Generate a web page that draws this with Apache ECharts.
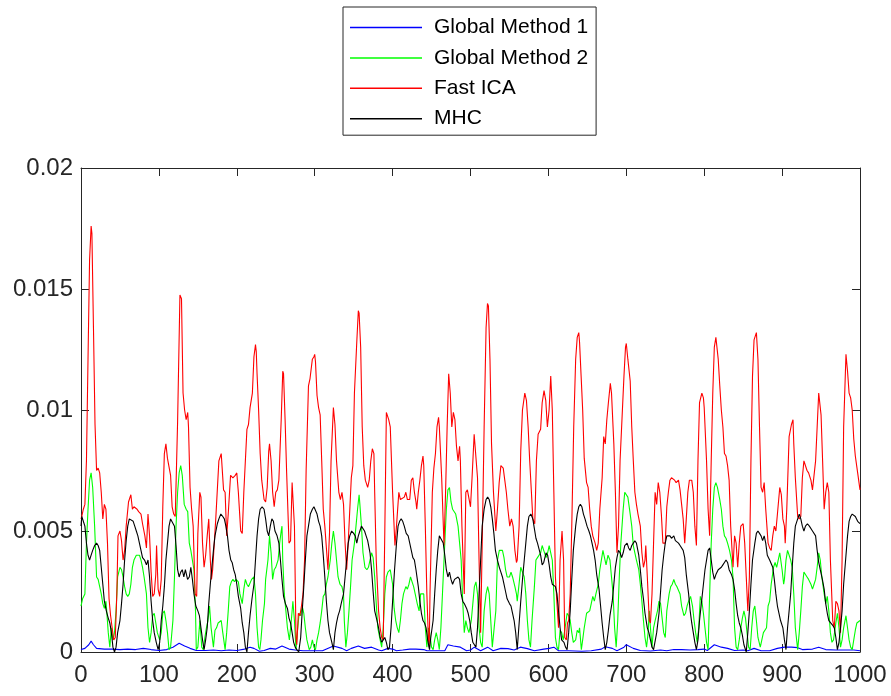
<!DOCTYPE html>
<html>
<head>
<meta charset="utf-8">
<script src="https://cdn.jsdelivr.net/npm/echarts@6/dist/echarts.min.js"></script>
<style>
html,body{margin:0;padding:0;background:#fff;}
#chart{width:891px;height:696px;}
</style>
</head>
<body>
<div id="chart"></div>
<script>
// Values are stored in units of 1e-3 (milli); pairs are [sample index, value]
const seriesNames = ['Global Method 1', 'Global Method 2', 'Fast ICA', 'MHC'];
const xTicks = [0, 100, 200, 300, 400, 500, 600, 700, 800, 900, 1000];
const xTickLabels = ['0', '100', '200', '300', '400', '500', '600', '700', '800', '900', '1000'];
const yTicks = [0, 0.005, 0.01, 0.015, 0.02];
const yTickLabels = ['0', '0.005', '0.01', '0.015', '0.02'];
const valueUnit = 1e-3;

const globalMethod1 = [[0,0.1],[5,0.15],[10,0.3],[13,0.45],[16,0.3],[20,0.15],[30,0.12],[40,0.12],[50,0.1],[60,0.12],[70,0.1],[80,0.15],[90,0.1],[100,0.06],[110,0.1],[118,0.2],[126,0.36],[133,0.25],[140,0.15],[148,0.06],[160,0.06],[170,0.08],[180,0.05],[190,0.08],[200,0.06],[210,0.12],[217,0.2],[222,0.15],[229,0.03],[235,0.06],[243,0.15],[250,0.12],[258,0.25],[267,0.12],[275,0.08],[285,0.05],[298,0.05],[310,0.05],[324,0.25],[335,0.15],[341,0.05],[347,0.15],[356,0.25],[364,0.15],[373,0.2],[382,0.08],[386,0.05],[394,0.15],[400,0.12],[405,0.05],[413,0.08],[422,0.12],[430,0.12],[440,0.1],[444,0.05],[455,0.05],[467,0.05],[471,0.3],[478,0.25],[487,0.2],[495,0.05],[500,0.08],[505,0.2],[513,0.05],[522,0.2],[529,0.05],[539,0.15],[548,0.14],[556,0.08],[564,0.2],[573,0.14],[582,0.05],[594,0.12],[601,0.15],[607,0.2],[613,0.05],[626,0.05],[643,0.03],[655,0.05],[668,0.12],[673,0.22],[682,0.15],[688,0.05],[697,0.2],[700,0.3],[709,0.15],[718,0.06],[731,0.04],[744,0.08],[752,0.05],[761,0.1],[771,0.1],[782,0.08],[792,0.1],[800,0.12],[804,0.06],[813,0.3],[822,0.2],[830,0.15],[839,0.06],[850,0.08],[856,0.05],[864,0.15],[873,0.05],[884,0.05],[894,0.15],[903,0.2],[912,0.2],[920,0.18],[926,0.1],[939,0.12],[947,0.2],[956,0.1],[969,0.08],[983,0.08],[992,0.08],[1000,0.05]];

const globalMethod2 = [[0,1.9],[2,2.2],[5,2.4],[7,4.5],[9,5.9],[11,7.1],[13,7.4],[15,6.8],[17.5,5.2],[20,3.1],[22,3.0],[24,2.7],[26,2.4],[28,2.0],[30,1.8],[32,2.1],[33,1.7],[35,0.8],[37,0.2],[39,1.0],[41,0.5],[43,0.8],[45,1.7],[47,3.1],[50,3.5],[52,3.4],[54,3.1],[56,2.7],[58,2.4],[60,2.3],[62,2.4],[64,2.8],[66,3.5],[68,3.8],[71,4.0],[73,4.0],[75,4.0],[77,3.8],[79,3.5],[81,3.1],[84,2.4],[86,1.0],[88,0.4],[90,0.8],[92,1.5],[94,1.6],[96,1.2],[98,0.8],[101,0.5],[103,0.8],[105,1.6],[107,1.7],[109,1.3],[111,0.8],[113,0.1],[115,0.2],[118,1.3],[120,3.1],[122,5.2],[124,6.6],[126,7.4],[128,7.7],[130,7.3],[132.5,6.1],[135,5.9],[137,5.8],[139,4.5],[141,4.2],[143,3.8],[145,3.4],[147,1.7],[148,0.1],[150,0.2],[152.6,1.3],[155,0.2],[157,0.1],[159,0.6],[161,1.0],[163,1.3],[165,1.9],[167,1.0],[170,0.2],[172,0.9],[174,1.0],[176,1.2],[178,1.2],[180,1.3],[182,0.8],[185,0.1],[187,0.8],[189,1.7],[191,2.7],[193,2.9],[195,3.0],[197,2.9],[199,3.0],[202,2.9],[204,2.4],[207,2.0],[209,2.6],[211,3.0],[213,2.8],[215,2.7],[217,2.7],[219,3.0],[222,3.1],[224,2.4],[226,1.0],[228,0.2],[229.5,0.1],[231,0.5],[233,1.3],[235.5,2.0],[237,3.0],[240,3.8],[242,4.8],[244,4.1],[246,3.0],[248,3.4],[250,3.5],[253,3.8],[255,4.5],[257,5.0],[258,5.2],[259,3.8],[261,2.4],[263,1.7],[265,1.0],[267.5,0.5],[270,1.3],[272,2.1],[274,1.3],[276,0.1],[278,0.9],[280,1.6],[282,1.5],[284,1.9],[286,1.6],[288,1.0],[290,0.5],[293,0.1],[295,0.2],[297,0.5],[299,0.2],[301,0.1],[303,0.5],[305,0.8],[307,1.2],[309,1.7],[311,2.3],[313,2.4],[315,2.8],[317,3.1],[320,3.8],[322,4.5],[324,5.0],[326,4.5],[328,3.8],[330,3.1],[332.5,2.8],[335,2.7],[337,2.4],[338,1.3],[340,0.2],[342,0.8],[344,1.7],[346,2.7],[348,3.8],[351,4.5],[353,5.2],[355,5.9],[357,6.5],[358,6.1],[360,5.2],[362,4.1],[364.5,3.5],[367,3.4],[369,3.5],[371,3.8],[373,4.1],[375,3.9],[377,3.1],[379,2.0],[381,1.0],[384,0.5],[386,0.2],[388,1.0],[390,2.4],[392,3.1],[394,3.3],[397,3.4],[400,2.8],[402,1.8],[404,1.3],[406,1.0],[408,0.8],[410,1.3],[412,2.0],[414,2.4],[417,2.7],[419,2.6],[421,2.8],[423,3.1],[425,3.1],[427,2.7],[429,2.4],[431.6,2.0],[434,1.7],[436,2.4],[438,2.4],[440,2.4],[442,1.0],[444,0.2],[446,1.0],[447.5,0.8],[450,0.2],[452,0.1],[454,0.5],[456,0.8],[458,0.5],[460,0.1],[462,1.0],[464,2.4],[467,4.5],[469,5.9],[471,6.7],[473,6.8],[475,6.2],[477,5.9],[479,5.9],[481,5.7],[484,5.2],[486,5.2],[488,3.8],[490,2.1],[492,0.8],[494,1.3],[496,1.0],[498,0.8],[501,1.3],[503,2.0],[505,2.7],[507,2.9],[509,2.4],[511,1.0],[513,0.4],[515,0.2],[517.5,1.7],[520,2.4],[522,2.7],[524,2.4],[526,1.3],[528,0.2],[530,0.2],[532.5,1.7],[534.6,3.8],[537,4.2],[539,4.2],[541,4.2],[543,3.9],[545,3.4],[547,3.1],[550,3.1],[552,3.3],[554,3.1],[557,2.7],[559,2.4],[560,2.1],[562,2.7],[564.5,3.5],[567,3.5],[569,3.1],[571,2.4],[573,1.3],[575,0.5],[577,0.2],[579,1.3],[582,2.7],[584,3.8],[586,3.9],[588,3.9],[590,4.1],[592,4.4],[594,4.2],[597,3.9],[599,4.1],[601,4.4],[603,4.4],[605,3.8],[607,2.4],[609,0.6],[611,0.2],[613,0.1],[615,0.9],[617,0.8],[619,0.5],[621,0.9],[624,1.6],[626,1.5],[628,1.3],[630,0.8],[632,0.4],[635,0.5],[637,0.9],[639,0.8],[640,1.0],[642.3,0.1],[644,0.5],[646,1.0],[649,1.6],[651,1.6],[653,1.7],[655,2.0],[657,2.3],[659,2.1],[661,2.4],[664,2.8],[666,3.4],[668,3.8],[670,4.2],[672,3.9],[674,3.6],[676.5,4.0],[679,3.8],[681,3.1],[683,2.4],[685,1.0],[687,0.2],[689,1.3],[691,3.1],[693,4.5],[696,5.9],[698,6.6],[700,6.6],[702,6.4],[705,5.7],[707,5.2],[709,4.4],[711,4.1],[713,3.8],[716,3.4],[718,2.8],[720,2.1],[722,1.3],[724,0.6],[726,0.2],[728,0.8],[729.5,1.7],[731,1.0],[733,0.2],[735,1.0],[737,1.3],[740,1.7],[742,2.1],[744,2.0],[746,1.4],[748,0.8],[750,0.6],[752,1.7],[755,2.4],[757,2.7],[759,2.8],[761,3.0],[763,2.8],[765,2.7],[767,2.7],[769,2.4],[771,1.9],[774,1.5],[776,1.6],[778,1.9],[780,2.1],[782.5,2.3],[785,1.9],[787,1.3],[789,0.8],[791,0.4],[793,1.0],[795,2.3],[797,2.1],[799,1.6],[801,1.0],[803,0.4],[805,0.1],[807,2.4],[809,4.5],[811,5.9],[813,6.8],[815,7.0],[817,6.8],[820,6.3],[822,5.9],[824,5.2],[826,4.8],[828,4.7],[830,4.5],[832.5,4.2],[835,3.8],[837,3.1],[839,1.0],[841,0.2],[843,0.1],[845,0.5],[847,1.0],[849,1.4],[851,1.7],[853,1.4],[855,0.8],[857,0.2],[859,0.1],[861,1.0],[863,1.7],[865,1.9],[867,1.3],[869,0.6],[872,0.2],[874,0.5],[876,0.8],[878,0.8],[880,1.0],[882,1.9],[884,2.1],[886,2.8],[889,3.5],[891,3.7],[893,3.5],[895,3.8],[897,4.1],[900,3.4],[902,2.8],[903,3.0],[905,3.8],[907,4.2],[909,4.2],[911,3.8],[913,3.5],[915,2.4],[917,1.0],[920,0.1],[922,0.8],[924,1.7],[926,2.7],[928,3.3],[930,3.2],[932,3.1],[934,3.0],[937,2.8],[939,2.6],[941,2.8],[943,3.0],[945,3.5],[947,4.1],[949,3.8],[951,3.1],[954,2.4],[956,2.0],[958,2.3],[960,1.7],[962,0.8],[964,0.4],[966,0.5],[969,1.2],[971,1.6],[973,1.0],[975,0.2],[977,0.5],[979,1.0],[982,1.5],[984,1.0],[986,0.5],[988,0.2],[990,0.1],[992,0.5],[994,0.9],[996,1.2],[1000,1.3]];

const fastICA = [[0,5.5],[1,5.6],[3,5.9],[5,6.1],[7,7.9],[9,12.1],[11,16.2],[13,17.6],[14,17.3],[16,13.4],[18,9.4],[20,7.5],[22,7.6],[24,7.4],[26,6.6],[28,5.5],[30,6.1],[32,5.9],[34,4.5],[36,2.2],[38,1.5],[40,1.0],[42,0.5],[44,0.6],[46,2.4],[47.5,4.8],[50,5.0],[52,4.6],[54,3.8],[56,4.2],[58,5.2],[61,6.2],[64,6.5],[66,5.9],[68,6.0],[70,6.0],[72,5.9],[74,5.8],[77,5.7],[79,5.3],[82,4.8],[84,4.3],[86,5.7],[88,4.8],[90,3.3],[92,2.3],[94,2.4],[96,3.2],[97,4.4],[99,2.6],[101,2.3],[103,3.0],[105,6.0],[107,8.2],[109,8.6],[111,8.0],[113,8.0],[115,7.3],[117,6.0],[119,5.7],[121,5.6],[124,9.5],[127,14.75],[129,14.6],[131,10.7],[133,10.0],[135,9.6],[137,9.9],[138,9.3],[140,6.8],[142,5.9],[144,5.2],[146.5,2.4],[148.5,2.3],[150,4.9],[152.5,6.6],[154,6.4],[156,4.5],[158,3.5],[160,4.0],[162,4.8],[164,5.5],[166,3.8],[167.5,3.0],[169,3.4],[173,5.5],[177,7.9],[180,8.2],[183,6.7],[185,6.6],[187,4.8],[189,5.7],[192,7.3],[195,7.2],[198,7.3],[200,7.4],[202,6.6],[205,5.0],[207,4.9],[209,6.6],[211,7.9],[213,9.2],[215,9.4],[217,10.1],[220,10.7],[222,12.2],[224,12.7],[225,12.4],[226,11.5],[228,10.0],[230,8.2],[232,7.1],[235,6.3],[237,6.2],[239,6.8],[241,8.3],[242,8.6],[244,7.9],[246,6.6],[248,6.0],[250,6.6],[252,6.7],[254,7.1],[257,9.6],[259,11.6],[260,11.5],[262,9.6],[264,7.4],[267,4.5],[269,4.6],[271,7.0],[272,7.0],[274,5.2],[276,0.6],[277,0.3],[279,1.6],[281,1.5],[283,1.9],[285,2.4],[287,3.8],[289,7.5],[292,11.0],[294,11.3],[297,12.1],[299,12.2],[300,12.3],[301,12.0],[303,10.6],[305,10.1],[307,9.8],[309,7.9],[311,5.9],[313,5.2],[317,3.4],[319,4.9],[321,7.9],[324,10.1],[326,9.4],[328,7.9],[331,6.6],[333,6.3],[335,6.6],[337,6.1],[339,4.5],[341,3.4],[343,4.5],[347,7.2],[349,7.7],[351,10.7],[354,12.8],[356,14.1],[357,14.0],[359,12.6],[361,9.3],[363,7.7],[365,7.1],[368,6.8],[370,7.1],[372,7.9],[374,8.4],[376,8.2],[377,6.6],[379,3.8],[382,1.7],[384,1.0],[386,0.6],[388,0.5],[390,5.0],[392,9.9],[395,9.6],[397,9.3],[400,6.6],[403,4.4],[405,5.2],[408,6.6],[410,6.3],[412,6.3],[415,6.4],[417,6.6],[419,6.3],[422,6.3],[424,7.1],[426,7.2],[428,6.6],[430,6.2],[431,5.9],[433,6.6],[435,7.1],[437,7.7],[439,8.1],[440,7.7],[442,5.2],[444,2.4],[446,0.5],[447,0.2],[448,2.4],[451,6.6],[453,7.6],[455,8.2],[457,9.3],[459,9.7],[460,9.3],[463,7.2],[466,4.4],[468,6.6],[470,9.3],[472,11.5],[474,10.7],[476,9.3],[478,9.9],[480,9.6],[482,8.5],[484,7.9],[486,8.5],[487,7.9],[489,5.2],[492,2.4],[494,6.6],[496,6.7],[500,6.0],[502,7.2],[504.7,9.0],[507,9.0],[509,7.2],[511,3.8],[513,0.8],[515.4,5.2],[517.5,9.3],[520,13.4],[521.8,14.4],[523,14.3],[525,12.1],[527,8.6],[529.5,6.6],[532.5,5.0],[534.6,5.9],[536.8,7.0],[539,7.7],[542,7.6],[544,7.1],[546,6.6],[548,5.9],[550.4,5.2],[552.6,5.5],[554.7,5.2],[557,4.2],[559,3.7],[560,3.8],[562.4,5.2],[564.5,8.3],[566.7,10.0],[569.7,10.7],[571.8,10.4],[574,9.3],[576,7.9],[578.2,6.6],[580,5.5],[582.5,5.3],[584.6,7.9],[586.8,9.0],[590,9.2],[592,10.3],[594.4,10.8],[596.6,10.4],[598.7,9.3],[600.9,10.0],[603,11.4],[605,10.0],[607,6.6],[609,3.1],[611,2.0],[613,1.0],[615,3.8],[617.5,5.0],[619.5,3.8],[621,0.6],[623,0.5],[624.5,1.2],[626,1.3],[628,2.4],[630,5.2],[632.5,9.3],[635,12.1],[637,13.0],[639,13.2],[640,12.8],[642,11.4],[644,10.0],[646,8.0],[649,7.0],[651,6.8],[653,5.9],[655,5.2],[657,4.8],[660,4.5],[662,4.2],[664,4.5],[666,5.9],[669,7.2],[671,8.9],[673,8.6],[675,9.6],[677,10.3],[679.5,11.1],[681,10.7],[684,8.6],[686,6.6],[688,4.1],[690,5.2],[692,7.9],[695,10.0],[697,11.4],[699,12.6],[700,12.75],[702,12.1],[705,11.2],[707,9.3],[709,7.9],[711,6.6],[713,6.1],[715,5.7],[718,5.2],[720,4.1],[722,3.5],[724,3.8],[725,4.4],[727,3.1],[729.5,1.3],[731,1.2],[733,2.4],[735,4.5],[737,6.6],[739,6.1],[741,7.0],[743,6.6],[745,5.7],[747,4.5],[750,4.5],[752,6.0],[754,6.6],[756,7.1],[758,7.2],[760,7.2],[762,7.1],[764,7.0],[767,7.1],[769,6.7],[771,6.1],[773,5.5],[775,4.5],[777,5.5],[779,6.6],[781,7.1],[784,7.1],[786,6.6],[788,5.2],[790,4.4],[792,7.9],[794,10.3],[797,10.7],[799,10.5],[800,10.1],[803,7.9],[805,5.9],[807,4.8],[809,7.9],[811,10.7],[813,12.6],[815,13.0],[818,12.1],[820,11.0],[822,10.0],[824,9.3],[826,8.2],[828,8.1],[830,7.7],[832,7.1],[834,5.2],[837,3.5],[839,4.8],[841,4.5],[843,3.5],[845,4.5],[847,5.2],[850,5.3],[852,4.5],[854,3.1],[856,1.7],[858,3.1],[860,7.9],[862,11.4],[864,12.9],[867,13.2],[869,12.1],[871,9.3],[873,6.8],[875,6.6],[877,7.0],[879,5.9],[882,4.5],[884,4.3],[886,4.2],[888,4.8],[890,5.2],[892,5.0],[894,5.7],[897,6.8],[899,6.5],[901,5.5],[903,5.2],[904,4.5],[906,5.9],[908,7.9],[909,8.9],[911,8.9],[912,9.4],[914,9.6],[915,8.6],[917,7.2],[920,5.6],[922,5.5],[924,5.6],[926,7.2],[928,7.9],[930,7.9],[932,7.5],[934,7.4],[937,7.1],[939,6.7],[941,6.7],[943,7.9],[945,9.3],[947,10.7],[950,9.8],[952,7.9],[954,5.9],[956,6.6],[958,7.0],[960,6.6],[962,3.8],[965,1.3],[967,1.0],[969,2.1],[971,2.0],[973,1.7],[975,0.8],[977,3.8],[979,9.3],[982,12.3],[984,11.6],[986,10.7],[988,10.5],[990,10.0],[992,8.8],[994,8.1],[997,7.4],[1000,6.7]];

const mhc = [[0,5.2],[1,5.6],[3,5.6],[5,5.2],[7,4.5],[9,4.0],[11,3.8],[13,4.0],[15,4.2],[17.5,4.4],[20,4.5],[22,4.4],[24,4.2],[26,3.5],[28,2.8],[30,2.1],[32.5,1.7],[35,1.4],[37,1.2],[39,0.8],[41,0.2],[43,0.0],[45,0.2],[47,0.8],[50,1.3],[52,2.0],[54,2.8],[56,3.8],[58,4.6],[60,5.2],[62,5.5],[64.5,5.5],[67,5.4],[69,5.2],[71,5.0],[73,4.8],[75,4.5],[77,4.2],[79,3.9],[81.6,3.8],[84,3.6],[86,3.8],[88,3.1],[90,2.1],[92,1.3],[94,0.8],[96.6,0.4],[99,0.1],[101,0.4],[103,1.3],[105,1.9],[107,2.7],[109,3.8],[111,4.5],[113,5.2],[115,5.5],[117.5,5.5],[120,5.2],[122,4.4],[124,3.4],[126,3.1],[128,3.3],[130,3.4],[132,3.1],[134,3.4],[136.8,3.0],[139,3.1],[141,3.5],[143,3.0],[145,2.4],[147.4,1.9],[150,1.7],[152,1.5],[154,1.0],[156,0.5],[158,0.1],[160,0.5],[162,1.0],[164,2.0],[166,2.8],[168,3.5],[170,4.2],[172,4.8],[175,5.3],[177,5.5],[179.5,5.7],[182,5.6],[184,5.5],[186,5.2],[188,4.8],[190,4.2],[192.3,3.8],[194,3.7],[196,3.4],[198,3.2],[200,2.8],[202,2.3],[205,1.8],[207,1.2],[209,0.8],[211,0.2],[213,0.0],[215,0.8],[217,1.5],[219.5,2.2],[222,2.8],[224,3.8],[226,4.8],[228,5.5],[230,5.9],[232.5,6.0],[235,5.9],[237,5.5],[239,5.0],[241,4.8],[243,5.2],[245,5.5],[247,5.4],[249,5.0],[251.7,4.8],[254,4.5],[256,3.8],[258,3.0],[260,2.3],[262.4,2.0],[265,1.8],[267,1.4],[269,1.2],[271,0.8],[273,0.4],[275,0.2],[277,0.1],[279.5,0.0],[282,0.6],[284,1.7],[286,2.7],[288,3.8],[290,4.8],[292,5.2],[294.4,5.7],[297,5.9],[299,6.0],[300.4,6.0],[303,5.7],[305,5.4],[307,5.2],[309,4.8],[311,4.0],[313,3.1],[315,2.1],[317,1.3],[319,0.8],[322,0.4],[324,0.1],[326,0.8],[328,1.2],[330,1.5],[332,1.7],[334,2.0],[337,2.4],[339,3.1],[341,3.8],[343,4.5],[345,4.8],[347.4,5.0],[350,4.9],[352,4.8],[354,4.5],[356,4.8],[358,5.0],[360,5.2],[362,5.1],[364,5.0],[366,4.8],[368,4.6],[371,4.1],[373,3.4],[375,2.5],[377,1.7],[380,1.3],[382,1.0],[384,0.6],[386,0.4],[388,0.5],[390,0.6],[392,0.4],[394,0.1],[396,0.2],[398,1.0],[400,2.1],[402.5,3.4],[405,4.5],[407,5.2],[409,5.4],[411,5.5],[413,5.4],[415,5.2],[417.5,4.9],[420,4.8],[422,4.5],[424,4.2],[426,3.9],[428,3.8],[430,3.4],[433,2.7],[435,2.1],[437,1.6],[439,1.3],[441,1.2],[443,1.0],[445,0.5],[447.4,0.1],[449,0.6],[452,1.3],[454,2.4],[456,3.4],[458,4.2],[460,4.8],[462.4,4.8],[465,4.5],[467,4.0],[469,3.4],[471,3.1],[473,3.3],[475,3.0],[477,2.8],[479.5,3.0],[482,3.0],[484,3.1],[486,3.0],[488,2.4],[490,2.1],[492,2.0],[495,1.8],[497,1.6],[499,1.3],[501,0.8],[503,0.4],[505,0.3],[507,0.2],[509,1.0],[511,2.4],[513,3.8],[515,5.2],[517.5,5.9],[520,6.3],[522,6.4],[524,6.3],[526,6.0],[528,5.5],[530,4.9],[532,4.2],[534.6,3.8],[537,3.5],[539,3.3],[541,3.1],[543,2.8],[545,2.5],[547,2.2],[550,2.0],[552,1.9],[554,1.6],[556,1.3],[558,0.8],[560,0.1],[562,1.0],[564.5,2.1],[567,3.1],[569,3.8],[571,4.5],[573,5.2],[575,5.6],[577.5,5.7],[580,5.5],[582,5.1],[584,4.7],[586,4.5],[588,4.5],[590,4.0],[592,3.6],[594,3.7],[597,4.1],[599,4.0],[601,3.6],[603,3.1],[605,2.8],[607,2.8],[609,2.7],[611,2.4],[613,1.7],[615,1.0],[617,0.5],[620,0.4],[622,0.2],[624,0.1],[626,0.8],[628,1.7],[630,3.0],[632,4.2],[635,5.2],[637,5.7],[639,6.0],[641,6.1],[643,6.0],[645,5.7],[647,5.5],[649.6,5.2],[652,5.0],[654,4.8],[656,4.5],[658,4.2],[660,3.8],[662,3.2],[665,2.6],[667,1.9],[669,1.2],[671,0.6],[673,0.1],[675,0.4],[677,0.9],[679,1.5],[682,2.1],[684,2.8],[686,3.5],[688,3.9],[690,4.2],[692,4.1],[694,3.9],[696,4.1],[698,4.4],[701,4.5],[703,4.3],[705,4.2],[707,4.4],[709,4.5],[711,4.6],[713,4.5],[716,4.0],[718,3.4],[720,2.7],[722,2.2],[724,1.6],[727,1.0],[729,0.8],[731,0.5],[733,0.2],[735,0.1],[737,0.1],[739,0.8],[742,1.6],[744,2.5],[746,3.4],[748,4.0],[750,4.5],[752,4.8],[754,4.8],[756,4.8],[758,4.7],[761,4.8],[763,4.6],[765,4.6],[767,4.5],[769,4.4],[771,4.4],[773,4.2],[775,3.9],[777,3.2],[780,2.4],[782,1.7],[784,1.2],[786,0.8],[788,0.4],[790,0.1],[792,0.5],[794,1.3],[797,2.2],[799,2.8],[801,3.4],[803,3.8],[805,4.2],[807,4.3],[809,3.8],[811,3.3],[813,3.0],[815,3.2],[818,3.4],[820,3.4],[822,3.5],[824,3.6],[826,3.7],[828,3.8],[830,3.7],[832,3.4],[835,3.2],[837,3.0],[839,2.6],[841,2.0],[843,1.5],[845,1.2],[847,1.0],[849,0.7],[851,0.3],[854,0.0],[856,0.8],[858,1.7],[860,2.8],[862,3.8],[865,4.5],[867,4.9],[869,5.0],[871,4.9],[873,4.8],[875,4.6],[877,4.8],[879,4.5],[881,4.0],[884,3.8],[886,3.8],[888,3.5],[890,3.0],[892,2.4],[894,1.9],[896,1.6],[898,1.3],[901,1.0],[903,0.5],[905,0.1],[907,1.0],[909,1.7],[911,2.4],[913,3.5],[915,4.5],[917,5.2],[920,5.5],[922,5.7],[924,5.5],[926,5.2],[928,5.0],[930,5.2],[932.5,5.3],[935,5.2],[937,5.2],[939,5.0],[941,5.0],[943,4.8],[945,4.2],[947,3.7],[949,3.4],[951.7,3.0],[954,2.6],[956,2.0],[958,1.6],[960,1.3],[962.4,1.2],[965,1.1],[967,1.0],[969,0.6],[971,0.1],[973,0.4],[975,1.0],[977,1.7],[979,2.8],[982,4.0],[984,4.8],[986,5.4],[988,5.6],[990,5.7],[992,5.7],[994,5.6],[997,5.4],[1000,5.3]];

const seriesColors = ['#0000FF', '#00FF00', '#FF0000', '#000000'];
const seriesData = [globalMethod1, globalMethod2, fastICA, mhc];

const axisColor = '#262626';
const fontFamily = '"Liberation Sans", Arial, Helvetica, sans-serif';

const chart = echarts.init(document.getElementById('chart'), null, {renderer: 'canvas'});

function lookupLabel(ticks, labels) {
  return function (v) {
    for (let i = 0; i < ticks.length; i++) {
      if (Math.abs(v - ticks[i]) < 1e-9) return labels[i];
    }
    return '';
  };
}

function makeAxis(kind, position, showLabels) {
  const isX = kind === 'x';
  const ticks = isX ? xTicks : yTicks;
  const labels = isX ? xTickLabels : yTickLabels;
  return {
    type: 'value',
    min: ticks[0],
    max: ticks[ticks.length - 1],
    interval: ticks[1] - ticks[0],
    position: position,
    axisLine: {show: true, onZero: false, lineStyle: {color: axisColor, width: 1}},
    axisTick: {show: true, inside: true, length: 8, lineStyle: {color: axisColor, width: 1}},
    axisLabel: {
      show: showLabels,
      color: axisColor,
      fontFamily: fontFamily,
      fontSize: 24,
      margin: isX ? 11 : 8,
      formatter: lookupLabel(ticks, labels)
    },
    splitLine: {show: false}
  };
}

const option = {
  animation: false,
  backgroundColor: '#ffffff',
  grid: {left: 81, right: 31, top: 168, bottom: 44, show: false},
  legend: {
    data: seriesNames.map((name, i) => ({name: name, icon: 'rect', itemStyle: {color: seriesColors[i], opacity: 1}})),
    orient: 'vertical',
    left: 343,
    top: 7,
    itemWidth: 72,
    itemHeight: 1.5,
    itemGap: 9.4,
    padding: [10, 8, 6, 7],
    borderColor: axisColor,
    borderWidth: 1,
    backgroundColor: '#ffffff',
    textStyle: {fontFamily: fontFamily, fontSize: 21, lineHeight: 20, color: '#000', padding: [0, 0, 0, 7]}
  },
  xAxis: [makeAxis('x', 'bottom', true), makeAxis('x', 'top', false)],
  yAxis: [makeAxis('y', 'left', true), makeAxis('y', 'right', false)],
  series: seriesNames.map((name, i) => ({
    name: name,
    type: 'line',
    xAxisIndex: 0,
    yAxisIndex: 0,
    showSymbol: false,
    symbol: 'none',
    smooth: false,
    color: seriesColors[i],
    itemStyle: {color: seriesColors[i]},
    lineStyle: {color: seriesColors[i], width: 1.1},
    data: seriesData[i].map(p => [p[0], p[1] * valueUnit])
  }))
};

chart.setOption(option);
</script>
</body>
</html>
